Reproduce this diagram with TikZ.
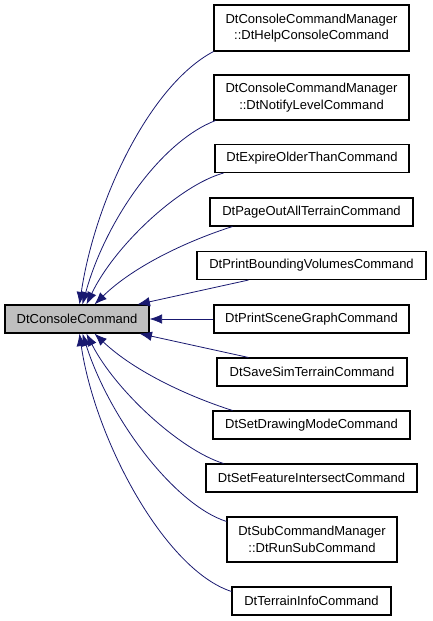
\documentclass[tikz,border=0pt]{standalone}
\usepackage{fontspec}
\setmainfont{Liberation Sans}
\usetikzlibrary{arrows.meta}
\definecolor{midnightblue}{HTML}{191970}
\definecolor{basegray}{HTML}{BFBFBF}
\begin{document}
\begin{tikzpicture}[x=1pt,y=-1pt,
  klass/.style={draw=black, fill=white, line width=1.1pt, inner xsep=4pt, inner ysep=2pt,
    minimum height=28pt, align=center, font=\fontsize{13}{16.6}\selectfont},
  inherit/.style={draw=midnightblue, line width=0.8pt, -{Latex[length=12.5pt,width=9.5pt]}}]
\useasboundingbox (0,0) rectangle (432,621);
% base class
\node [klass, fill=basegray, minimum width=144pt] (base) at (77,319) {DtConsoleCommand};
% derived classes
\node [klass, minimum width=195pt, minimum height=46pt] (help) at (311.5,28) {DtConsoleCommandManager\\::DtHelpConsoleCommand};
\node [klass, minimum width=195pt, minimum height=45pt] (notify) at (311.5,97.5) {DtConsoleCommandManager\\::DtNotifyLevelCommand};
\node [klass, minimum width=194pt] (expire) at (312,158.5) {DtExpireOlderThanCommand};
\node [klass, minimum width=203pt] (pageout) at (311.5,212) {DtPageOutAllTerrainCommand};
\node [klass, minimum width=229pt] (bounding) at (311.5,265.5) {DtPrintBoundingVolumesCommand};
\node [klass, minimum width=195pt] (scene) at (311.5,319) {DtPrintSceneGraphCommand};
\node [klass, minimum width=190pt] (savesim) at (312,372) {DtSaveSimTerrainCommand};
\node [klass, minimum width=197pt] (drawing) at (311.5,425) {DtSetDrawingModeCommand};
\node [klass, minimum width=211pt] (feature) at (311.5,478) {DtSetFeatureIntersectCommand};
\node [klass, minimum width=170pt, minimum height=45pt] (runsub) at (312,539.5) {DtSubCommandManager\\::DtRunSubCommand};
\node [klass, minimum width=159pt] (terrain) at (311.5,601) {DtTerrainInfoCommand};
% inheritance edges
\draw [inherit] (help.south west) .. controls (150,85) and (95,200) .. ([xshift=75pt]base.north west);
\draw [inherit] ([xshift=2pt]notify.south west) .. controls (160,142) and (105,222) .. ([xshift=78pt]base.north west);
\draw [inherit] ([xshift=9pt]expire.south west) .. controls (180,185) and (115,245) .. ([xshift=82pt]base.north west);
\draw [inherit] ([xshift=23pt]pageout.south west) .. controls (190,240) and (135,265) .. ([xshift=90pt]base.north west);
\draw [inherit] ([xshift=52pt]bounding.south west) -- ([xshift=133pt]base.north west);
\draw [inherit] (scene.west) -- (base.east);
\draw [inherit] ([xshift=32pt]savesim.north west) -- ([xshift=135pt]base.south west);
\draw [inherit] ([xshift=20pt]drawing.north west) .. controls (190,397) and (135,372) .. ([xshift=90pt]base.south west);
\draw [inherit] ([xshift=18pt]feature.north west) .. controls (180,450) and (115,390) .. ([xshift=82pt]base.south west);
\draw [inherit] ([yshift=-5pt]runsub.north west) .. controls (175,505) and (110,420) .. ([xshift=78pt]base.south west);
\draw [inherit] ([yshift=-5pt]terrain.north west) .. controls (165,570) and (95,440) .. ([xshift=75pt]base.south west);
\end{tikzpicture}
\end{document}
